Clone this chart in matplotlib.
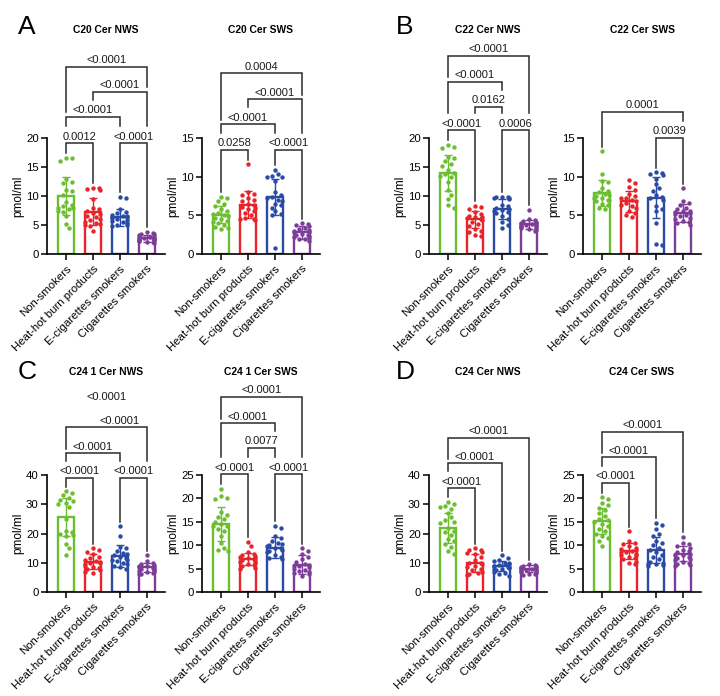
import numpy as np
import matplotlib
matplotlib.use('Agg')
import matplotlib.pyplot as plt

plt.rcParams['font.family'] = ['Liberation Sans Narrow', 'Liberation Sans', 'DejaVu Sans']

W, H = 720, 696
groups = ["Non-smokers", "Heat-hot burn products", "E-cigarettes smokers", "Cigarettes smokers"]
colors = ['#6BBE2E', '#E8232A', '#2A4BA5', '#7D3C98']

# ---------------- Panel A: C20 Cer ----------------
a_nws_means = [10.0, 7.3, 6.3, 2.7]
a_nws_sd = [3.2, 2.3, 1.5, 0.6]
a_nws_non = [16.6, 16.1, 16.5, 13.0, 12.5, 12.3, 11.0, 10.8, 10.2, 9.0, 8.5, 8.3, 8.0, 8.0, 7.8, 7.5, 7.2, 6.5, 5.2, 4.5]
a_nws_heat = [11.4, 11.2, 11.0, 11.3, 9.5, 8.0, 7.7, 7.4, 7.0, 6.9, 6.5, 6.3, 6.0, 5.8, 5.5, 5.3, 5.0, 4.8, 3.9, 5.2]
a_nws_ecig = [9.9, 9.6, 7.8, 7.2, 7.0, 6.8, 6.6, 6.4, 6.3, 6.2, 6.0, 5.9, 5.7, 5.5, 5.3, 5.0, 4.9, 5.0, 6.5]
a_nws_cig = [3.8, 3.7, 3.5, 3.4, 3.2, 3.1, 3.0, 2.9, 2.8, 2.7, 2.6, 2.5, 2.5, 2.4, 2.3, 2.2, 2.1, 2.0, 1.9, 2.6]

a_sws_means = [5.1, 6.4, 7.4, 2.8]
a_sws_sd = [1.1, 1.7, 2.3, 0.8]
a_sws_non = [7.4, 7.2, 6.8, 6.5, 6.2, 5.8, 5.5, 5.3, 5.2, 5.0, 4.9, 4.7, 4.5, 4.3, 4.2, 4.0, 3.7, 3.5, 3.3, 3.2]
a_sws_heat = [11.6, 8.0, 7.8, 7.6, 7.2, 7.0, 6.8, 6.5, 6.3, 6.0, 5.8, 5.5, 5.3, 5.0, 4.6, 4.5, 4.5, 4.4, 6.1]
a_sws_ecig = [10.9, 10.3, 10.1, 10.0, 9.9, 9.5, 8.0, 7.6, 7.4, 7.2, 7.0, 6.8, 6.5, 6.3, 6.0, 5.5, 5.2, 5.0, 0.8]
a_sws_cig = [4.0, 3.9, 3.8, 3.6, 3.4, 3.2, 3.1, 3.0, 2.8, 2.6, 2.5, 2.4, 2.3, 2.2, 2.1, 2.0, 1.9, 1.7, 2.9]

# ---------------- Panel B: C22 Cer ----------------
b_nws_means = [13.9, 6.0, 7.7, 5.1]
b_nws_sd = [3.1, 1.5, 1.7, 0.8]
b_nws_non = [18.8, 18.5, 18.3, 16.8, 16.5, 16.0, 15.5, 15.2, 14.5, 14.0, 13.8, 13.5, 13.2, 12.5, 11.0, 10.2, 9.5, 8.5, 8.0]
b_nws_heat = [8.3, 8.1, 7.8, 7.2, 6.9, 6.6, 6.4, 6.2, 6.0, 5.8, 5.5, 5.2, 4.8, 4.3, 4.0, 3.8, 3.3, 3.1, 6.3]
b_nws_ecig = [9.9, 9.9, 9.8, 9.7, 9.6, 9.5, 8.5, 8.2, 8.0, 7.8, 7.5, 7.3, 7.0, 6.5, 6.0, 5.5, 5.0, 4.4, 7.6]
b_nws_cig = [7.6, 6.0, 5.9, 5.7, 5.5, 5.4, 5.3, 5.2, 5.1, 5.0, 4.9, 4.8, 4.6, 4.5, 4.4, 4.3, 4.2, 4.0, 5.0]

b_sws_means = [7.9, 6.8, 7.3, 5.3]
b_sws_sd = [1.7, 1.4, 2.6, 1.2]
b_sws_non = [13.3, 10.3, 9.5, 9.3, 8.5, 8.0, 7.7, 7.5, 7.3, 7.2, 7.0, 7.0, 6.8, 6.5, 6.3, 6.0, 5.8, 8.2, 7.6]
b_sws_heat = [9.6, 9.2, 8.7, 8.3, 7.8, 7.5, 7.2, 7.0, 6.8, 6.6, 6.4, 6.2, 6.0, 5.6, 5.3, 5.0, 4.8, 7.3]
b_sws_ecig = [10.6, 10.5, 10.3, 10.2, 9.7, 9.0, 8.5, 8.2, 7.6, 7.4, 7.3, 7.0, 6.2, 5.8, 5.5, 4.0, 1.3, 1.1]
b_sws_cig = [8.5, 6.8, 6.6, 6.3, 6.0, 5.8, 5.6, 5.5, 5.3, 5.2, 5.0, 4.9, 4.7, 4.5, 4.3, 4.2, 4.0, 3.8, 5.4]

# ---------------- Panel C: C24 1 Cer ----------------
c_nws_means = [25.5, 10.3, 12.3, 8.4]
c_nws_sd = [6.5, 2.6, 3.8, 1.6]
c_nws_non = [34.5, 34.0, 33.0, 32.0, 31.5, 31.0, 30.5, 30.0, 29.0, 25.0, 21.0, 20.5, 20.0, 19.5, 19.0, 16.5, 15.0, 12.5]
c_nws_heat = [15.0, 14.5, 13.8, 13.0, 12.0, 11.5, 11.0, 10.5, 10.2, 10.0, 9.8, 9.5, 9.0, 8.5, 8.2, 8.0, 7.5, 7.0, 6.5]
c_nws_ecig = [22.5, 19.0, 15.5, 15.0, 14.0, 13.5, 13.0, 12.5, 12.0, 11.5, 11.0, 10.5, 10.0, 9.5, 9.0, 8.5, 8.0, 10.8]
c_nws_cig = [12.5, 10.5, 10.0, 9.5, 9.3, 9.0, 8.8, 8.5, 8.2, 8.0, 7.8, 7.5, 7.3, 7.0, 6.8, 6.5, 6.2, 6.0, 8.7]

c_sws_means = [14.5, 7.0, 9.5, 5.8]
c_sws_sd = [3.7, 1.3, 2.2, 2.0]
c_sws_non = [22.1, 20.5, 20.0, 19.8, 17.0, 16.5, 15.5, 15.0, 14.5, 14.2, 14.0, 13.5, 13.0, 12.0, 10.5, 9.5, 9.0, 8.8, 16.0]
c_sws_heat = [10.7, 9.8, 8.5, 8.2, 8.0, 7.7, 7.5, 7.2, 7.0, 6.8, 6.5, 6.3, 6.0, 5.8, 5.5, 5.2, 5.0, 7.3, 6.6]
c_sws_ecig = [14.2, 13.6, 12.0, 11.5, 11.0, 10.5, 10.2, 10.0, 9.8, 9.5, 9.0, 8.8, 8.5, 8.0, 7.5, 7.2, 7.0, 9.3]
c_sws_cig = [9.4, 8.7, 8.2, 7.5, 7.0, 6.5, 6.0, 5.8, 5.5, 5.3, 5.0, 4.8, 4.5, 4.2, 4.0, 3.8, 3.5, 5.6]

# ---------------- Panel D: C24 Cer ----------------
d_nws_means = [21.8, 9.9, 8.9, 8.0]
d_nws_sd = [5.1, 3.0, 1.8, 1.2]
d_nws_non = [30.8, 30.0, 29.5, 29.0, 28.5, 27.0, 25.5, 24.5, 23.5, 22.0, 21.0, 20.5, 19.5, 18.0, 17.5, 16.5, 15.5, 14.0, 13.0, 24.0]
d_nws_heat = [15.0, 14.5, 14.2, 13.8, 13.5, 13.0, 12.0, 11.0, 10.0, 9.5, 9.0, 8.5, 8.0, 7.5, 7.0, 6.5, 6.0, 5.8, 9.8]
d_nws_ecig = [12.5, 11.5, 11.0, 10.5, 10.0, 9.8, 9.5, 9.2, 9.0, 8.8, 8.5, 8.2, 8.0, 7.8, 7.5, 7.0, 6.5, 6.0, 5.5, 8.6]
d_nws_cig = [9.5, 9.3, 9.0, 8.8, 8.6, 8.4, 8.2, 8.0, 7.8, 7.6, 7.4, 7.2, 7.0, 6.8, 6.5, 6.2, 6.0, 5.8, 7.9]

d_sws_means = [15.1, 8.7, 9.0, 8.2]
d_sws_sd = [2.8, 1.7, 2.7, 1.6]
d_sws_non = [20.2, 19.8, 19.0, 18.5, 18.0, 17.5, 16.8, 16.2, 15.5, 15.0, 14.5, 14.0, 13.5, 13.0, 12.5, 12.0, 11.5, 11.0, 9.8, 15.3]
d_sws_heat = [13.0, 11.0, 10.5, 10.2, 9.8, 9.5, 9.2, 9.0, 8.8, 8.5, 8.2, 8.0, 7.8, 7.5, 7.2, 7.0, 6.5, 6.2, 6.0, 8.6]
d_sws_ecig = [14.8, 14.3, 13.5, 12.5, 12.0, 11.0, 10.5, 10.0, 9.5, 9.0, 8.5, 8.0, 7.5, 7.0, 6.5, 6.3, 6.0, 6.0, 5.8, 5.5]
d_sws_cig = [11.8, 10.5, 10.2, 9.8, 9.5, 9.0, 8.8, 8.5, 8.2, 8.0, 7.8, 7.5, 7.2, 7.0, 6.8, 6.5, 6.2, 6.0, 5.8, 5.5]

# brackets: (group i, group j, label, level in data units, draw line, label centre override)
a_nws_br = [(0, 1, '0.0012', 19.1, True, None), (2, 3, '<0.0001', 19.1, True, None),
            (0, 2, '<0.0001', 23.7, True, None), (1, 3, '<0.0001', 28.0, True, None),
            (0, 3, '<0.0001', 32.3, True, None)]
a_sws_br = [(0, 1, '0.0258', 13.45, True, None), (2, 3, '<0.0001', 13.45, True, None),
            (0, 2, '<0.0001', 16.8, True, None), (1, 3, '<0.0001', 20.0, True, None),
            (0, 3, '0.0004', 23.4, True, None)]
b_nws_br = [(0, 1, '<0.0001', 21.3, True, None), (2, 3, '0.0006', 21.3, True, None),
            (1, 2, '0.0162', 25.4, True, None), (0, 2, '<0.0001', 29.7, True, None),
            (0, 3, '<0.0001', 34.2, True, None)]
b_sws_br = [(2, 3, '0.0039', 15.0, True, None), (0, 3, '0.0001', 18.4, True, None)]
c_nws_br = [(0, 1, '<0.0001', 39.0, True, None), (2, 3, '<0.0001', 39.0, True, None),
            (0, 2, '<0.0001', 47.5, True, None), (0, 3, '<0.0001', 56.4, True, 2.0),
            (0, 3, '<0.0001', 64.5, False, None)]
c_sws_br = [(0, 1, '<0.0001', 25.2, True, None), (2, 3, '<0.0001', 25.2, True, None),
            (1, 2, '0.0077', 30.8, True, None), (0, 2, '<0.0001', 36.1, True, None),
            (0, 3, '<0.0001', 41.7, True, None)]
d_nws_br = [(0, 1, '<0.0001', 35.5, True, None), (0, 2, '<0.0001', 44.1, True, None),
            (0, 3, '<0.0001', 52.8, True, None)]
d_sws_br = [(0, 1, '<0.0001', 23.3, True, None), (0, 2, '<0.0001', 28.8, True, None),
            (0, 3, '<0.0001', 34.2, True, None)]

panels = [
    dict(title='C20 Cer NWS', ymax=20, step=5, means=a_nws_means, sd=a_nws_sd,
         pts=[a_nws_non, a_nws_heat, a_nws_ecig, a_nws_cig], br=a_nws_br, left=47, zero=254, h=116),
    dict(title='C20 Cer SWS', ymax=15, step=5, means=a_sws_means, sd=a_sws_sd,
         pts=[a_sws_non, a_sws_heat, a_sws_ecig, a_sws_cig], br=a_sws_br, left=202, zero=254, h=116),
    dict(title='C22 Cer NWS', ymax=20, step=5, means=b_nws_means, sd=b_nws_sd,
         pts=[b_nws_non, b_nws_heat, b_nws_ecig, b_nws_cig], br=b_nws_br, left=429, zero=254, h=116),
    dict(title='C22 Cer SWS', ymax=15, step=5, means=b_sws_means, sd=b_sws_sd,
         pts=[b_sws_non, b_sws_heat, b_sws_ecig, b_sws_cig], br=b_sws_br, left=583, zero=254, h=116),
    dict(title='C24 1 Cer NWS', ymax=40, step=10, means=c_nws_means, sd=c_nws_sd,
         pts=[c_nws_non, c_nws_heat, c_nws_ecig, c_nws_cig], br=c_nws_br, left=47, zero=592, h=117),
    dict(title='C24 1 Cer SWS', ymax=25, step=5, means=c_sws_means, sd=c_sws_sd,
         pts=[c_sws_non, c_sws_heat, c_sws_ecig, c_sws_cig], br=c_sws_br, left=202, zero=592, h=117),
    dict(title='C24 Cer NWS', ymax=40, step=10, means=d_nws_means, sd=d_nws_sd,
         pts=[d_nws_non, d_nws_heat, d_nws_ecig, d_nws_cig], br=d_nws_br, left=429, zero=592, h=117),
    dict(title='C24 Cer SWS', ymax=25, step=5, means=d_sws_means, sd=d_sws_sd,
         pts=[d_sws_non, d_sws_heat, d_sws_ecig, d_sws_cig], br=d_sws_br, left=583, zero=592, h=117),
]

XLO, XHI = -0.7, 3.67
AXW = 118
PPX = AXW / (XHI - XLO)


def swarm(vals, ppu_y, d=4.8, maxw=0.28):
    vals = np.asarray(vals, dtype=float)
    order = np.argsort(-vals)
    placed = []
    offs = np.zeros(len(vals))
    for idx in order:
        y = vals[idx] * ppu_y
        cand = 0.0
        for k in range(0, 40):
            cand = 0.0 if k == 0 else ((k + 1) // 2) * (1 if k % 2 else -1) * d * 0.62
            if all((cand - px) ** 2 + (y - py) ** 2 >= d * d for px, py in placed):
                break
        placed.append((cand, y))
        offs[idx] = cand / PPX
    return np.clip(offs, -maxw, maxw)


fig = plt.figure(figsize=(W / 100, H / 100), dpi=100)
bracket_col = '#2b2b2b'

for p in panels:
    ax = fig.add_axes([p['left'] / W, (H - p['zero']) / H, AXW / W, p['h'] / H])
    ppu = p['h'] / p['ymax']
    x = np.arange(4)
    ax.bar(x, p['means'], width=0.6, facecolor='white', edgecolor=colors, linewidth=1.7, zorder=2)
    for g in range(4):
        vals = np.asarray(p['pts'][g], dtype=float)
        offs = swarm(vals, ppu)
        ax.scatter(g + offs, vals, s=10, color=colors[g], linewidths=0, zorder=3, clip_on=False)
        ax.errorbar(g, p['means'][g], yerr=p['sd'][g], color=colors[g], capsize=3.2,
                    elinewidth=1.0, capthick=1.0, zorder=4)
    ax.set_xlim(XLO, XHI)
    ax.set_ylim(0, p['ymax'])
    ax.set_yticks(np.arange(0, p['ymax'] + 0.1, p['step']))
    ax.set_xticks(x)
    ax.set_xticklabels(groups, rotation=45, ha='right', rotation_mode='anchor', fontsize=7)
    ax.tick_params(axis='both', length=4, width=1.1, labelsize=8.2, pad=2)
    ax.tick_params(axis='x', pad=3)
    for s in ['top', 'right']:
        ax.spines[s].set_visible(False)
    for s in ['left', 'bottom']:
        ax.spines[s].set_linewidth(1.2)
    ax.set_ylabel('pmol/ml', fontsize=8.5, labelpad=1)

    # brackets
    gap = 4.5 / ppu
    floor = [max(max(p['pts'][g]), p['means'][g] + p['sd'][g]) + gap for g in range(4)]
    half_lab = 20 / PPX
    lab_h = 12.5 / ppu
    for (i, j, lab, lev, line, cen) in sorted(p['br'], key=lambda b: b[3]):
        xc = (i + j) / 2 if cen is None else cen
        if line:
            ax.plot([i, i, j, j], [floor[i], lev, lev, floor[j]], color=bracket_col,
                    lw=1.1, clip_on=False, zorder=5, solid_joinstyle='miter')
        ax.text(xc, lev + 1.5 / ppu, lab, ha='center', va='bottom', fontsize=8,
                color='#1a1a1a', clip_on=False)
        if line:
            for g in range(i, j + 1):
                if abs(g - xc) < half_lab:
                    floor[g] = lev + lab_h + gap
                else:
                    floor[g] = lev + gap

    fig.text((p['left'] + AXW / 2) / W, 1 - (30 if p['zero'] < 300 else 372) / H, p['title'],
             ha='center', va='center', fontsize=7.4, fontweight='bold')

for letter, (lx, ly) in zip('ABCD', [(27, 27), (405, 27), (27, 372), (405, 372)]):
    fig.text(lx / W, 1 - ly / H, letter, ha='center', va='center', fontsize=19)

fig.savefig('out.png', dpi=100)
